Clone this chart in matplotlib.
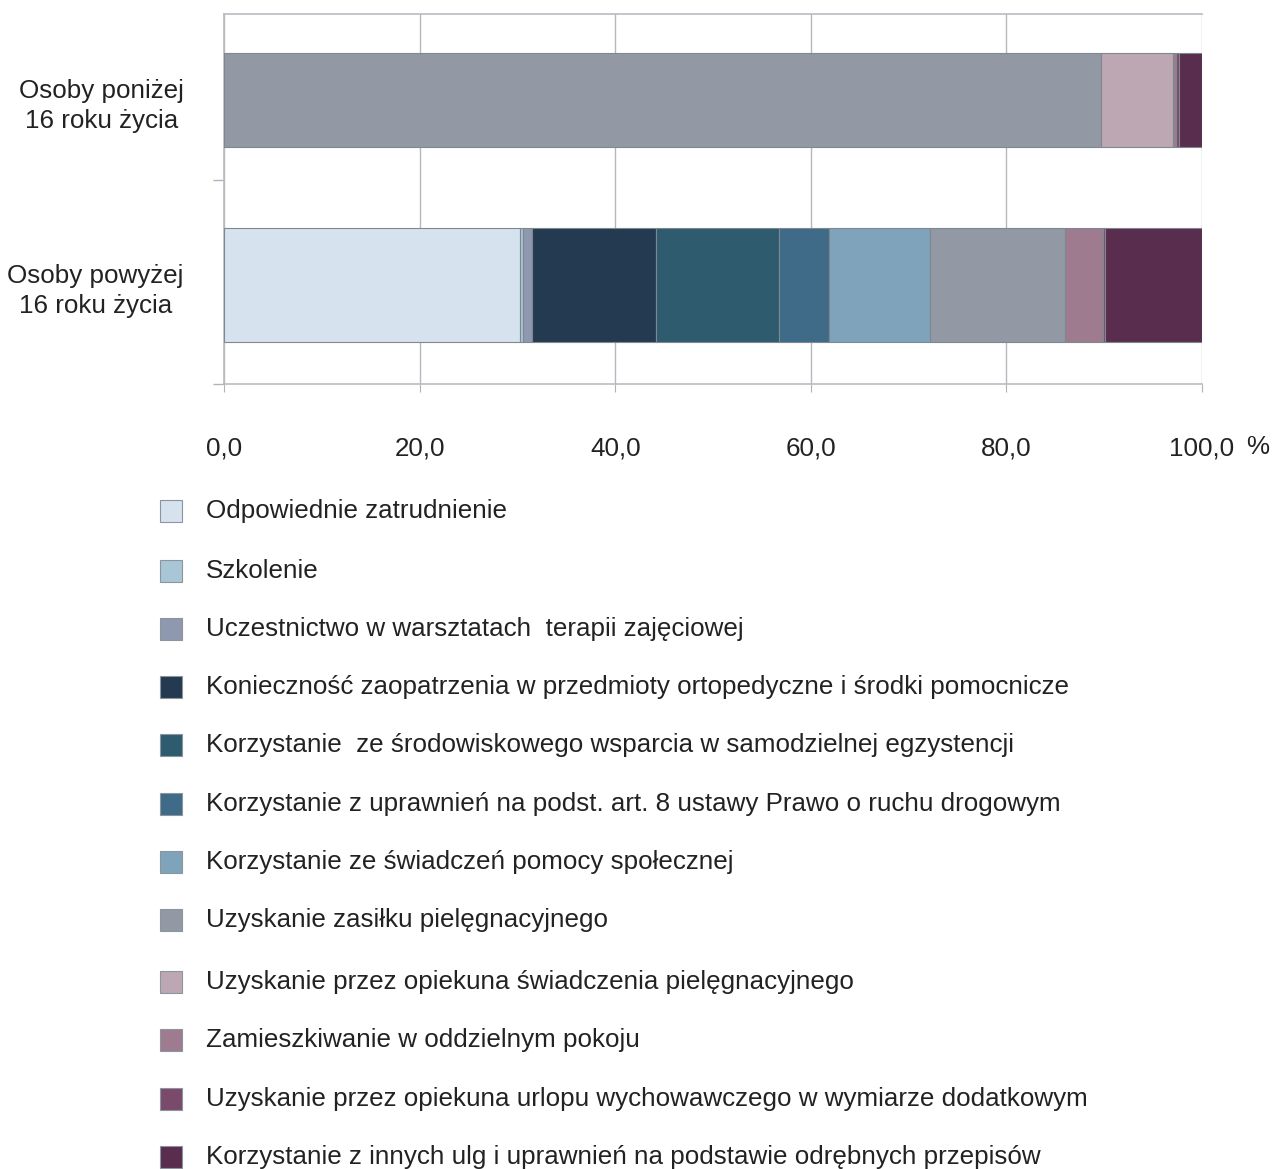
import matplotlib.pyplot as plt
from matplotlib.patches import Rectangle

plt.rcParams['font.family'] = ['Liberation Sans', 'DejaVu Sans']

# categories (bottom to top)
Groups = ["Osoby powyżej\n16 roku życia", "Osoby poniżej\n16 roku życia"]

Series = [
    "Odpowiednie zatrudnienie",
    "Szkolenie",
    "Uczestnictwo w warsztatach  terapii zajęciowej",
    "Konieczność zaopatrzenia w przedmioty ortopedyczne i środki pomocnicze",
    "Korzystanie  ze środowiskowego wsparcia w samodzielnej egzystencji",
    "Korzystanie z uprawnień na podst. art. 8 ustawy Prawo o ruchu drogowym",
    "Korzystanie ze świadczeń pomocy społecznej",
    "Uzyskanie zasiłku pielęgnacyjnego",
    "Uzyskanie przez opiekuna świadczenia pielęgnacyjnego",
    "Zamieszkiwanie w oddzielnym pokoju",
    "Uzyskanie przez opiekuna urlopu wychowawczego w wymiarze dodatkowym",
    "Korzystanie z innych ulg i uprawnień na podstawie odrębnych przepisów",
]

# percentages: [powyżej, poniżej]
Values_Over16 = [30.3, 0.3, 0.9, 12.7, 12.5, 5.2, 10.3, 13.8, 0.0, 3.9, 0.2, 9.9]
Values_Under16 = [0.0, 0.0, 0.0, 0.0, 0.0, 0.0, 0.0, 89.7, 7.3, 0.3, 0.3, 2.4]

Colors = ["#D6E3EE", "#A9C6D6", "#8E99B0", "#243A50", "#2F5B6E", "#3F6A88",
          "#7FA3BA", "#9399A4", "#BCA7B2", "#9E7B8F", "#7A4A6A", "#582D4D"]

X_Ticks = [0, 20, 40, 60, 80, 100]
X_Labels = ["0,0", "20,0", "40,0", "60,0", "80,0", "100,0"]

FS = 18.7

fig = plt.figure(figsize=(12.73, 11.69), dpi=100)
ax = fig.add_axes([224/1273, 1-384/1169, (1202-224)/1273, 370/1169])

Heights = [0.616, 0.503]
Ypos = [0, 1]
left = [0.0, 0.0]
for i in range(len(Series)):
    vals = [Values_Over16[i], Values_Under16[i]]
    ax.barh(Ypos, vals, left=left, height=Heights, color=Colors[i],
            edgecolor="#7F8891", linewidth=0.8, zorder=3)
    left = [left[0]+vals[0], left[1]+vals[1]]

ax.set_xlim(0, 100)
ax.set_ylim(-0.535, 1.465)
ax.set_xticks(X_Ticks)
ax.set_xticklabels(X_Labels, fontsize=FS, color="#222222")
ax.tick_params(axis="x", length=6, pad=32, color="#B0B4B8")
ax.grid(axis="x", color="#B4B8BD", linewidth=1, zorder=0)

ax.set_yticks(Ypos)
ax.set_yticklabels(Groups, fontsize=FS, color="#222222", multialignment="center",
                   linespacing=1.35)
ax.tick_params(axis="y", which="major", length=0, pad=29)
ax.set_yticks([-0.535, 0.568], minor=True)
ax.tick_params(axis="y", which="minor", length=8, color="#B0B4B8", width=1)

for s in ["left", "top", "bottom"]:
    ax.spines[s].set_color("#B8BCC1")
    ax.spines[s].set_linewidth(1.2)
ax.spines["right"].set_visible(False)

fig.text(1258/1273, 1-447/1169, "%", fontsize=FS, color="#222222", va="center", ha="center")

# legend
Row_Y = [511, 571, 629, 687, 745, 804, 862, 920, 982, 1040, 1099, 1157]
for i in range(len(Series)):
    y = Row_Y[i]
    fig.patches.append(Rectangle((160/1273, 1-(y+11)/1169), 22/1273, 22/1169,
                                 transform=fig.transFigure, facecolor=Colors[i],
                                 edgecolor="#8C959D", linewidth=0.8))
    fig.text(206/1273, 1-y/1169, Series[i], fontsize=FS, color="#222222", va="center")

fig.savefig("out.png", dpi=100)
